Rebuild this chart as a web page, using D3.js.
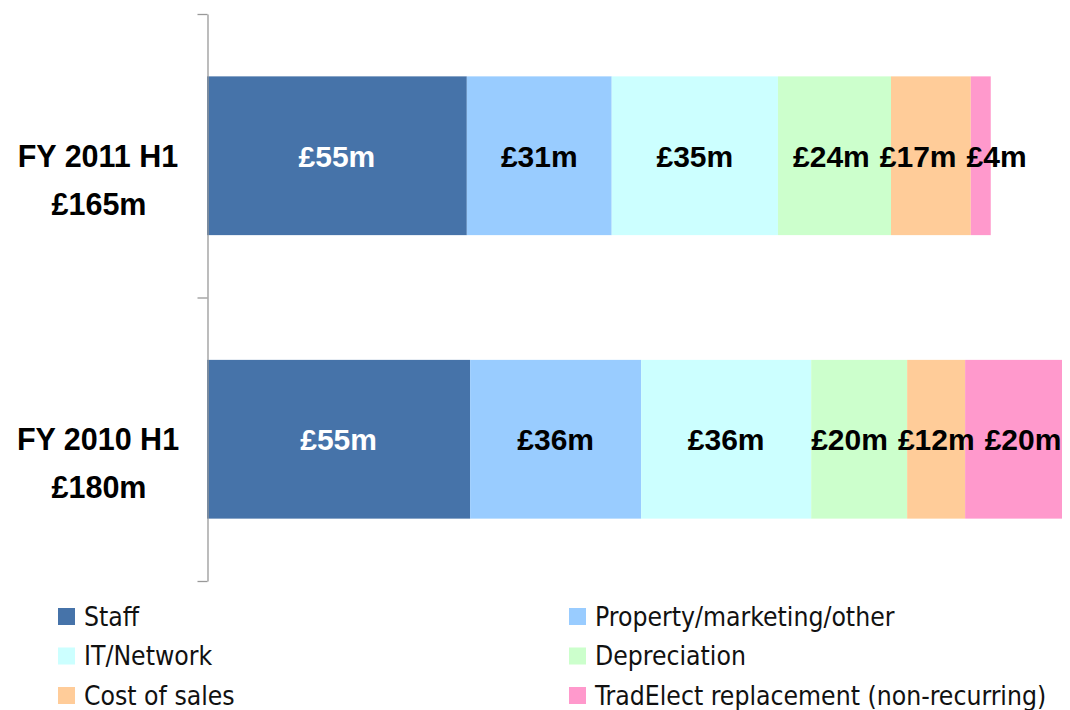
<!DOCTYPE html>
<html><head><meta charset="utf-8">
<script src="https://cdn.jsdelivr.net/npm/d3@7"></script>
<style>body{margin:0;background:#fff}</style>
</head><body>
<svg id="c" width="1070" height="710"></svg>
<script>
const categories = ["FY 2011 H1", "FY 2010 H1"];
const totals = ["£165m", "£180m"];
const seriesNames = ["Staff", "Property/marketing/other", "IT/Network", "Depreciation", "Cost of sales", "TradElect replacement (non-recurring)"];
const seriesColors = ["#4673a9", "#99ccff", "#ccffff", "#ccffcc", "#ffcc99", "#ff99cc"];
const fy2011 = [54.7, 30.5, 35.0, 23.8, 16.8, 4.2];
const fy2010 = [55.4, 36.0, 35.8, 20.2, 12.2, 20.4];
const labels2011 = ["£55m", "£31m", "£35m", "£24m", "£17m", "£4m"];
const labels2010 = ["£55m", "£36m", "£36m", "£20m", "£12m", "£20m"];

const values = [fy2011, fy2010];
const labelSets = [labels2011, labels2010];

const svg = d3.select("#c");
const x = d3.scaleLinear().domain([0, 180]).range([207, 1062]);
const y = d3.scaleBand().domain(categories).range([14, 581]).paddingInner(0.44).paddingOuter(0.22);

const rows = categories.map((c, i) => {
  let acc = 0;
  return values[i].map((v, j) => {
    const s = {cat: c, j, x0: acc, x1: acc + v, label: labelSets[i][j]};
    acc += v;
    return s;
  });
});

const g = svg.append("g");
rows.forEach(r => {
  g.selectAll(null).data(r).enter().append("rect")
    .attr("x", d => x(d.x0))
    .attr("y", d => y(d.cat))
    .attr("width", d => x(d.x1) - x(d.x0))
    .attr("height", y.bandwidth())
    .attr("fill", d => seriesColors[d.j]);
});

// axis
const axis = d3.axisLeft(d3.scaleLinear().domain([0, 2]).range([14, 581])).tickValues([0,1,2]).tickFormat("").tickSizeInner(10).tickSizeOuter(0);
const ax = svg.append("g").attr("transform", "translate(207.5,0)").call(axis);
ax.selectAll("path,line").attr("stroke", "#999").attr("stroke-width", 1.3);

// value labels with overlap resolution
rows.forEach(r => {
  const cy = y(r[0].cat) + y.bandwidth() / 2;
  const texts = g.selectAll(null).data(r).enter().append("text")
    .attr("x", d => (x(d.x0) + x(d.x1)) / 2)
    .attr("y", cy + 11)
    .attr("text-anchor", "middle")
    .attr("font-family", "Liberation Sans, Arial, sans-serif")
    .attr("font-weight", "bold")
    .attr("font-size", 30)
    .attr("fill", d => d.j === 0 ? "#fff" : "#000")
    .text(d => d.label);
  const nodes = texts.nodes();
  const pos = r.map(d => (x(d.x0) + x(d.x1)) / 2);
  const w = nodes.map(n => n.getComputedTextLength());
  const gap = 10;
  for (let it = 0; it < 50; it++) {
    for (let k = 0; k < pos.length - 1; k++) {
      const need = (w[k] + w[k+1]) / 2 + gap;
      const d = pos[k+1] - pos[k];
      if (d < need) { const s = (need - d) / 2; pos[k] -= s; pos[k+1] += s; }
    }
  }
  nodes.forEach((n, k) => d3.select(n).attr("x", pos[k]));
});

// category labels
categories.forEach((c, i) => {
  const cy = y(c) + y.bandwidth() / 2;
  const t = svg.append("text")
    .attr("text-anchor", "middle")
    .attr("font-family", "Liberation Sans, Arial, sans-serif")
    .attr("font-weight", "bold")
    .attr("font-size", 30.5)
    .attr("fill", "#000");
  t.append("tspan").attr("x", 98).attr("y", cy + 11).text(c);
  t.append("tspan").attr("x", 99).attr("y", cy + 59).text(totals[i]);
});

// legend
const lg = svg.append("g");
seriesNames.forEach((n, i) => {
  const col = i % 2, row = Math.floor(i / 2);
  const lx = col === 0 ? 58 : 569;
  const ly = 608 + row * 39.5;
  lg.append("rect").attr("x", lx).attr("y", ly).attr("width", 17).attr("height", 17).attr("fill", seriesColors[i]);
  lg.append("text").attr("x", lx + 26).attr("y", ly + 17.5)
    .attr("font-family", "DejaVu Sans Condensed, DejaVu Sans, sans-serif")
    .attr("font-stretch", "condensed")
    .attr("font-size", 26.3).attr("fill", "#111").text(n);
});
</script>
</body></html>
